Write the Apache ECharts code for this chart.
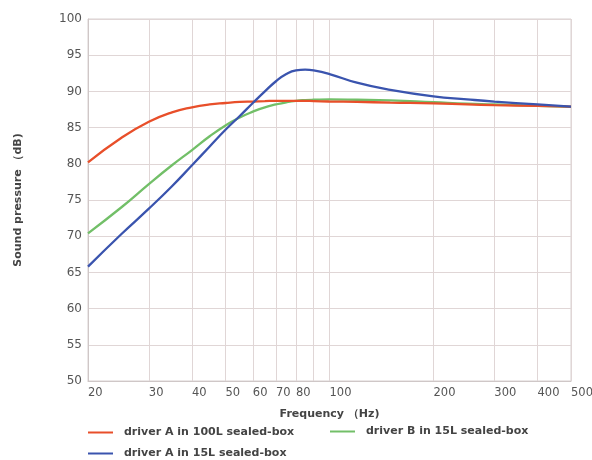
<!DOCTYPE html>
<html>
<head>
<meta charset="utf-8">
<script src="https://cdn.jsdelivr.net/npm/echarts@6/dist/echarts.min.js"></script>
<style>html,body{margin:0;padding:0;background:#fff}#c{width:592px;height:460px}</style>
</head>
<body>
<div id="c"></div>
<script>
const freqs = [20,25,30,35,40,45,50,55,60,65,70,75,80,85,90,100,120,150,200,250,300,400,500];
const driverA100L = [80.2,83.6,85.8,87.1,87.8,88.2,88.4,88.55,88.6,88.65,88.7,88.7,88.7,88.7,88.65,88.6,88.55,88.45,88.35,88.2,88.1,88.0,87.9];
const driverB15L  = [70.4,74.0,77.2,79.8,81.9,83.8,85.3,86.4,87.2,87.8,88.2,88.5,88.7,88.8,88.85,88.9,88.85,88.75,88.5,88.3,88.2,88.0,87.85];
const driverA15L  = [65.8,70.3,73.8,76.9,79.8,82.4,84.7,86.6,88.4,90.0,91.4,92.4,92.9,93.0,92.9,92.4,91.2,90.2,89.3,88.9,88.6,88.2,87.9];
const gridFreqs = [20,30,40,50,60,70,80,90,100,200,300,400,500];
const labelFreqs = [20,30,40,50,60,70,80,100,200,300,400,500];
const names = ['driver A in 100L sealed-box','driver B in 15L sealed-box','driver A in 15L sealed-box'];
const colors = ['#e84f2a','#72bf68','#3a54ae'];

const pair = arr => freqs.map((f,i)=>[f,arr[i]]);
const font = 'DejaVu Sans';
const chart = echarts.init(document.getElementById('c'), null, {renderer:'canvas'});
const legendBase = {
  orient:'horizontal', itemWidth:25, itemHeight:2, icon:'rect', padding:0,
  textStyle:{fontFamily:font, fontSize:11, fontWeight:'bold', color:'#444', padding:[0,0,0,6]},
  selectedMode:false
};
chart.setOption({
  animation:false,
  grid:{left:88, top:19, right:21, bottom:79, show:true, borderColor:'#d9d1d1', borderWidth:1, outerBoundsMode:'none', containLabel:false},
  legend:[
    Object.assign({}, legendBase, {left:88, top:427, data:[names[0]]}),
    Object.assign({}, legendBase, {left:330, top:426, data:[names[1]]}),
    Object.assign({}, legendBase, {left:88, top:448, data:[names[2]]})
  ],
  xAxis:{
    type:'log', logBase:10, min:20, max:500,
    name:'Frequency （Hz)', nameLocation:'middle', nameGap:28,
    nameTextStyle:{fontFamily:font, fontSize:11, fontWeight:'bold', color:'#444'},
    axisLine:{show:true, lineStyle:{color:'#cfc7c7'}},
    axisTick:{show:false, customValues:gridFreqs},
    axisLabel:{customValues:labelFreqs, align:'left', margin:6, fontFamily:font, fontSize:11.5, color:'#555',
      formatter:v=>String(Math.round(v))},
    splitLine:{show:true, lineStyle:{color:'#e0d6d6', width:1}},
    minorTick:{show:false}, minorSplitLine:{show:false}
  },
  yAxis:{
    type:'value', min:50, max:100, interval:5,
    name:'Sound pressure （dB)', nameLocation:'middle', nameGap:64,
    nameTextStyle:{fontFamily:font, fontSize:11, fontWeight:'bold', color:'#444'},
    axisLine:{show:true, lineStyle:{color:'#cfc7c7'}},
    axisTick:{show:false},
    axisLabel:{margin:6, fontFamily:font, fontSize:12, color:'#555'},
    splitLine:{show:true, lineStyle:{color:'#e0d6d6', width:1}}
  },
  series:[
    {name:names[0], type:'line', smooth:0.5, symbol:'none', data:pair(driverA100L), lineStyle:{color:colors[0], width:2.3}, itemStyle:{color:colors[0]}, z:3},
    {name:names[1], type:'line', smooth:0.5, symbol:'none', data:pair(driverB15L), lineStyle:{color:colors[1], width:2.3}, itemStyle:{color:colors[1]}, z:2},
    {name:names[2], type:'line', smooth:0.5, symbol:'none', data:pair(driverA15L), lineStyle:{color:colors[2], width:2.3}, itemStyle:{color:colors[2]}, z:4}
  ]
});
</script>
</body>
</html>
